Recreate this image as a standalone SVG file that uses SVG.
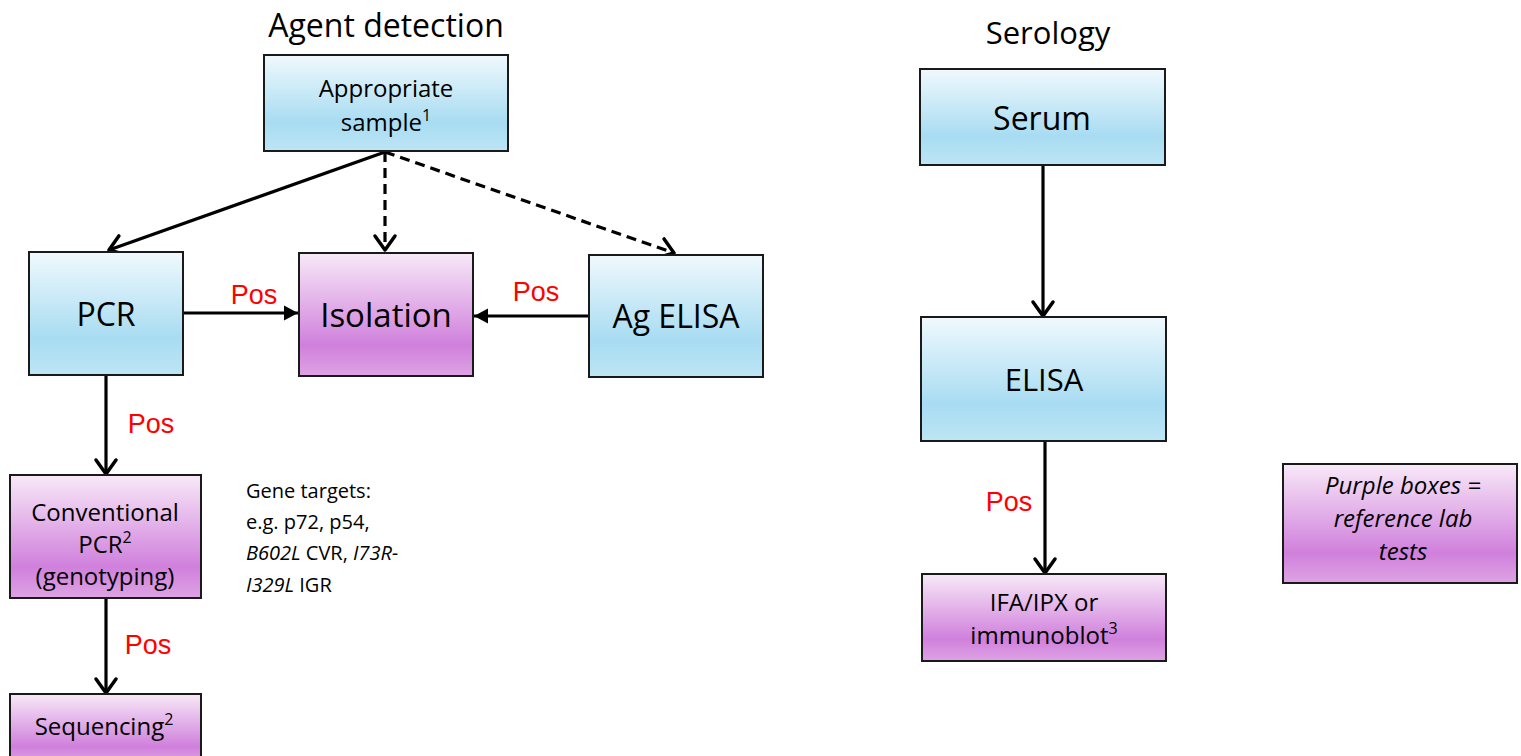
<svg xmlns="http://www.w3.org/2000/svg" width="1521" height="756" viewBox="0 0 1521 756">
<defs>
<linearGradient id="blue" x1="0" y1="0" x2="0" y2="1">
<stop offset="0" stop-color="#f0f9fd"/>
<stop offset="0.7" stop-color="#a8dcf2"/>
<stop offset="1" stop-color="#bde5f5"/>
</linearGradient>
<linearGradient id="purple" x1="0" y1="0" x2="0" y2="1">
<stop offset="0" stop-color="#f8e9f8"/>
<stop offset="0.75" stop-color="#d080dc"/>
<stop offset="1" stop-color="#dea3e4"/>
</linearGradient>
<marker id="open" viewBox="-18 -13 22 26" refX="0" refY="0" markerWidth="22" markerHeight="26" markerUnits="userSpaceOnUse" orient="auto" overflow="visible">
<path d="M-14 -10 L0 0 L-14 10" fill="none" stroke="#000" stroke-width="3.5" stroke-linejoin="round" stroke-linecap="round"/>
</marker>
<marker id="solid" viewBox="-16 -10 18 20" refX="0" refY="0" markerWidth="18" markerHeight="20" markerUnits="userSpaceOnUse" orient="auto" overflow="visible">
<path d="M0 0 L-14 -7.5 L-14 7.5 Z" fill="#000"/>
</marker>
</defs>
<style>
.b{fill:url(#blue);stroke:#1a1a1a;stroke-width:2}
.p{fill:url(#purple);stroke:#1a1a1a;stroke-width:2}
text{font-family:"Open Sans","Noto Sans","Liberation Sans",sans-serif;fill:#000}
.c{text-anchor:middle}
.big{font-size:32px}
.mid{font-size:24px}
.pos{font-family:"Liberation Sans",Arial,sans-serif;font-size:27px;fill:#ff0000;text-anchor:middle}
.ln{fill:none;stroke:#000;stroke-width:3.2}
.d{stroke-dasharray:10 6}
.i{font-style:italic}
</style>

<text class="c" x="386" y="37" font-size="32">Agent detection</text>
<text class="c" x="1048" y="44" font-size="31">Serology</text>

<g id="connectors">
<line class="ln" x1="385" y1="152" x2="109" y2="250" marker-end="url(#open)"/>
<line class="ln d" x1="385" y1="152" x2="385" y2="250" marker-end="url(#open)"/>
<line class="ln d" x1="385" y1="152" x2="674" y2="253" marker-end="url(#open)"/>
<line class="ln" x1="184" y1="313" x2="298" y2="313" marker-end="url(#solid)"/>
<line class="ln" x1="589" y1="316" x2="474" y2="316" marker-end="url(#solid)"/>
<line class="ln" x1="106" y1="376" x2="106" y2="474" marker-end="url(#open)"/>
<line class="ln" x1="106" y1="599" x2="106" y2="693" marker-end="url(#open)"/>
<line class="ln" x1="1043" y1="166" x2="1043" y2="316" marker-end="url(#open)"/>
<line class="ln" x1="1045" y1="442" x2="1045" y2="573" marker-end="url(#open)"/>
<text class="pos" x="254" y="304">Pos</text>
<text class="pos" x="536" y="301">Pos</text>
<text class="pos" x="151" y="433">Pos</text>
<text class="pos" x="148" y="654">Pos</text>
<text class="pos" x="1009" y="511">Pos</text>
</g>

<g id="sample">
<rect class="b" x="264" y="55" width="244" height="96"/>
<text class="c mid" x="386" y="97">Appropriate</text>
<text class="c mid" x="386" y="131">sample<tspan font-size="16" dy="-10">1</tspan></text>
</g>

<g id="pcr">
<rect class="b" x="29" y="252" width="154" height="123"/>
<text class="c big" x="106" y="326">PCR</text>
</g>

<g id="isolation">
<rect class="p" x="299" y="253" width="174" height="123"/>
<text class="c" x="386" y="327" font-size="33">Isolation</text>
</g>

<g id="agelisa">
<rect class="b" x="589" y="255" width="174" height="122"/>
<text class="c big" x="676" y="328">Ag ELISA</text>
</g>

<g id="conventional">
<rect class="p" x="10" y="475" width="191" height="123"/>
<text class="c mid" x="105" y="521">Conventional</text>
<text class="c mid" x="105" y="553">PCR<tspan font-size="16" dy="-10">2</tspan></text>
<text class="c mid" x="105" y="585">(genotyping)</text>
</g>

<g id="genetargets">
<text font-size="20" x="246" y="498">Gene targets:</text>
<text font-size="20" x="246" y="529">e.g. p72, p54,</text>
<text font-size="20" x="246" y="560"><tspan class="i">B602L</tspan> CVR, <tspan class="i">I73R-</tspan></text>
<text font-size="20" x="246" y="592"><tspan class="i">I329L</tspan> IGR</text>
</g>

<g id="sequencing">
<rect class="p" x="10" y="694" width="191" height="70"/>
<text class="c mid" x="104" y="735">Sequencing<tspan font-size="16" dy="-10">2</tspan></text>
</g>

<g id="serum">
<rect class="b" x="920" y="69" width="245" height="96"/>
<text class="c big" x="1042" y="130">Serum</text>
</g>

<g id="elisa">
<rect class="b" x="921" y="317" width="245" height="124"/>
<text class="c" x="1044" y="391" font-size="31">ELISA</text>
</g>

<g id="ifa">
<rect class="p" x="922" y="574" width="244" height="87"/>
<text class="c" x="1044" y="611" font-size="24">IFA/IPX or</text>
<text class="c" x="1044" y="644" font-size="24">immunoblot<tspan font-size="16" dy="-10">3</tspan></text>
</g>

<g id="legend">
<rect class="p" x="1283" y="464" width="234" height="119"/>
<text class="c i" x="1403" y="494" font-size="24">Purple boxes =</text>
<text class="c i" x="1403" y="527" font-size="24">reference lab</text>
<text class="c i" x="1403" y="560" font-size="24">tests</text>
</g>
</svg>
